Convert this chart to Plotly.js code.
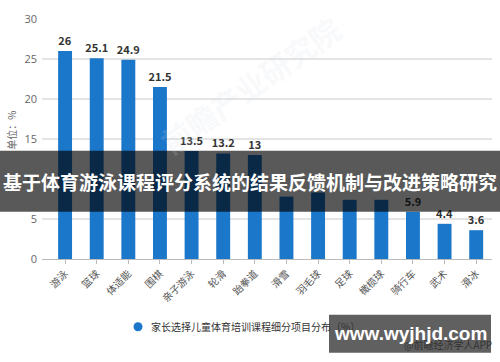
<!DOCTYPE html>
<html>
<head>
<meta charset="utf-8">
<script src="https://cdn.plot.ly/plotly-3.0.1.min.js"></script>
<style>
html,body{margin:0;padding:0;background:#fff;}
#chart{width:500px;height:362px;}
</style>
</head>
<body>
<div id="chart"></div>
<script>
const categories = ["游泳","篮球","体适能","围棋","亲子游泳","轮滑","跆拳道","滑雪","羽毛球","足球","橄榄球","骑行车","武术","滑冰"];
const values = [26, 25.1, 24.9, 21.5, 13.5, 13.2, 13, 7.8, 8.3, 7.4, 7.4, 5.9, 4.4, 3.6];
// labels of bars 滑雪–橄榄球 are hidden behind the banner in the reference
const valueLabels = ["26","25.1","24.9","21.5","13.5","13.2","13","","","","","5.9","4.4","3.6"];
const yTicks = [0, 5, 10, 15, 20, 25, 30];
const seriesName = "家长选择儿童体育培训课程细分项目分布（%）";
const yUnit = "单位：%";
const bannerText = "基于体育游泳课程评分系统的结果反馈机制与改进策略研究";
const siteText = "www.wyjhjd.com";
const sourceText = "@前瞻经济学人APP";

const CJK = '"Noto Sans CJK SC", "Noto Sans", sans-serif';

// plot area in pixels
const L = 42, R = 492, T = 19.3, B = 259.3;
const W = R - L, H = B - T;
const px = x => (x - L) / W;
const py = y => (B - y) / H;

const trace = {
  type: 'bar',
  x: categories,
  y: values,
  text: valueLabels,
  textposition: 'outside',
  constraintext: 'none',
  textfont: {family: CJK, size: 11, color: '#333', weight: 'bold'},
  cliponaxis: false,
  marker: {color: '#1b77c9'},
  width: 0.44,
  hoverinfo: 'none',
  showlegend: false
};

const layout = {
  width: 500, height: 362,
  margin: {l: L, r: 500 - R, t: T, b: 362 - B},
  paper_bgcolor: '#fff', plot_bgcolor: '#fff',
  font: {family: CJK},
  xaxis: {
    type: 'category',
    range: [-0.73, 13.5],
    tickangle: -45,
    tickfont: {family: CJK, size: 10, color: '#555'},
    ticks: 'outside', ticklen: 4, tickcolor: '#bbb',
    showline: true, linecolor: '#bbb', linewidth: 1,
    showgrid: false, zeroline: false, fixedrange: true
  },
  yaxis: {
    range: [0, 30],
    tickvals: yTicks,
    tickfont: {family: '"Open Sans", sans-serif', size: 11, color: '#666'},
    showgrid: true, gridcolor: '#e4e4e4', gridwidth: 1.5,
    zeroline: false, showline: false, ticks: '', ticklabelstandoff: 4,
    fixedrange: true
  },
  shapes: [
    {type: 'circle', xref: 'paper', yref: 'paper',
     x0: px(133.5), x1: px(142.5), y0: py(322.5), y1: py(331.5),
     fillcolor: '#1b77c9', line: {width: 0}},
    {type: 'rect', xref: 'paper', yref: 'paper', layer: 'above',
     x0: px(0), x1: px(500), y0: py(212), y1: py(151),
     fillcolor: 'rgba(0,0,0,0.65)', line: {width: 0}},
    {type: 'rect', xref: 'paper', yref: 'paper', layer: 'above',
     x0: px(329), x1: px(491), y0: py(353), y1: py(315),
     fillcolor: 'rgba(20,20,20,0.68)', line: {width: 0}}
  ],
  annotations: [
    {text: yUnit, xref: 'paper', yref: 'paper', x: px(12), y: py(131),
     textangle: -90, showarrow: false, font: {family: CJK, size: 10, color: '#666'},
     xanchor: 'center', yanchor: 'middle'},
    {text: '前瞻产业研究院', xref: 'paper', yref: 'paper', x: px(250), y: py(85),
     textangle: -35, showarrow: false, font: {family: CJK, size: 30, color: 'rgba(215,220,230,0.18)', weight: 'bold'},
     xanchor: 'center', yanchor: 'middle'},
    {text: seriesName, xref: 'paper', yref: 'paper', x: px(149), y: py(327),
     showarrow: false, font: {family: CJK, size: 10, color: '#333'},
     xanchor: 'left', yanchor: 'middle'},
    {text: bannerText, xref: 'paper', yref: 'paper', x: px(250), y: py(182),
     showarrow: false, font: {family: CJK, size: 19, color: '#fff', weight: 'bold'},
     xanchor: 'center', yanchor: 'middle'},
    {text: sourceText, xref: 'paper', yref: 'paper', x: px(494), y: py(345),
     showarrow: false, font: {family: CJK, size: 10, color: 'rgba(40,40,40,0.85)'},
     xanchor: 'right', yanchor: 'middle'},
    {text: siteText, xref: 'paper', yref: 'paper', x: px(410), y: py(334),
     showarrow: false, font: {family: '"Liberation Sans", Arial, sans-serif', size: 19, color: '#fff', weight: 'bold'},
     xanchor: 'center', yanchor: 'middle'}
  ]
};

Plotly.newPlot('chart', [trace], layout, {displayModeBar: false, staticPlot: true});
</script>
</body>
</html>
